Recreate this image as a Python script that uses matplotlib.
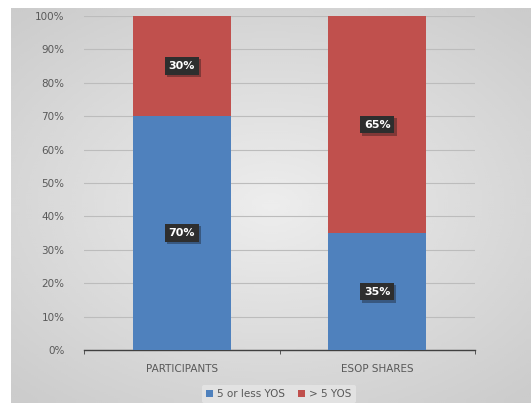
import matplotlib.pyplot as plt
import matplotlib.patheffects as pe
import numpy as np

categories = ['PARTICIPANTS', 'ESOP SHARES']
short_tenure = [70, 35]
long_tenure = [30, 65]
series_names = ['5 or less YOS', '> 5 YOS']
yticks = [0, 10, 20, 30, 40, 50, 60, 70, 80, 90, 100]

blue = '#4F81BD'
red = '#C0504D'
grey_text = '#595959'

fig = plt.figure(figsize=(5.31, 4.03), dpi=100)
fig.patch.set_facecolor('white')

# gradient backdrop
bg = fig.add_axes([11 / 531, 0, 1 - 11 / 531, 1 - 8 / 403])
yy, xx = np.mgrid[-1:1:200j, -1:1:260j]
rr = np.sqrt((xx * 0.9) ** 2 + (yy * 1.0) ** 2)
bg.imshow(0.93 - 0.13 * np.clip(rr, 0, 1.3) / 1.3, cmap='gray', vmin=0, vmax=1,
          aspect='auto', extent=[0, 1, 0, 1], interpolation='bicubic')
bg.axis('off')

ax = fig.add_axes([84 / 531, 1 - 350 / 403, 391 / 531, 334 / 403])
ax.patch.set_alpha(0)
x = np.arange(len(categories))
ax.bar(x, short_tenure, width=0.5, color=blue, label=series_names[0], zorder=3)
ax.bar(x, long_tenure, width=0.5, bottom=short_tenure, color=red,
       label=series_names[1], zorder=3)

ax.set_xlim(-0.5, 1.5)
ax.set_ylim(0, 100)
ax.set_yticks(yticks)
ax.set_yticklabels([f'{v}%' for v in yticks], color=grey_text, fontsize=7.5)
ax.yaxis.grid(True, color='#bcbcbc', linewidth=0.8, zorder=0)
ax.tick_params(axis='y', length=0, pad=14)
ax.set_xticks(x)
ax.set_xticklabels(categories, color=grey_text, fontsize=7.5)
ax.tick_params(axis='x', length=0, pad=10)
ax.set_xticks([-0.5, 0.5, 1.5], minor=True)
ax.tick_params(axis='x', which='minor', length=3, color='#404040', direction='out')
for s in ['left', 'right', 'top']:
    ax.spines[s].set_visible(False)
ax.spines['bottom'].set_color('#404040')
ax.spines['bottom'].set_linewidth(1.0)

shadow = [pe.withSimplePatchShadow(offset=(1.5, -1.5), alpha=0.35)]
for i in range(len(categories)):
    for val, base in [(short_tenure[i], 0), (long_tenure[i], short_tenure[i])]:
        t = ax.text(i, base + val / 2, f'{val}%', ha='center', va='center',
                    color='white', fontsize=8, fontweight='bold', zorder=5,
                    bbox=dict(boxstyle='square,pad=0.35', fc='#2e2e2e', ec='none'))
        t.get_bbox_patch().set_path_effects(shadow)

leg = fig.legend(loc='center', bbox_to_anchor=(0.525, 1 - 394 / 403), ncol=2,
                 fontsize=7.5, frameon=True, handlelength=0.7, handleheight=0.7,
                 columnspacing=1.2, handletextpad=0.4, borderpad=0.4)
leg.get_frame().set_facecolor('#e6e6e6')
leg.get_frame().set_edgecolor('none')
for txt in leg.get_texts():
    txt.set_color(grey_text)

fig.savefig('out.png', dpi=100)
